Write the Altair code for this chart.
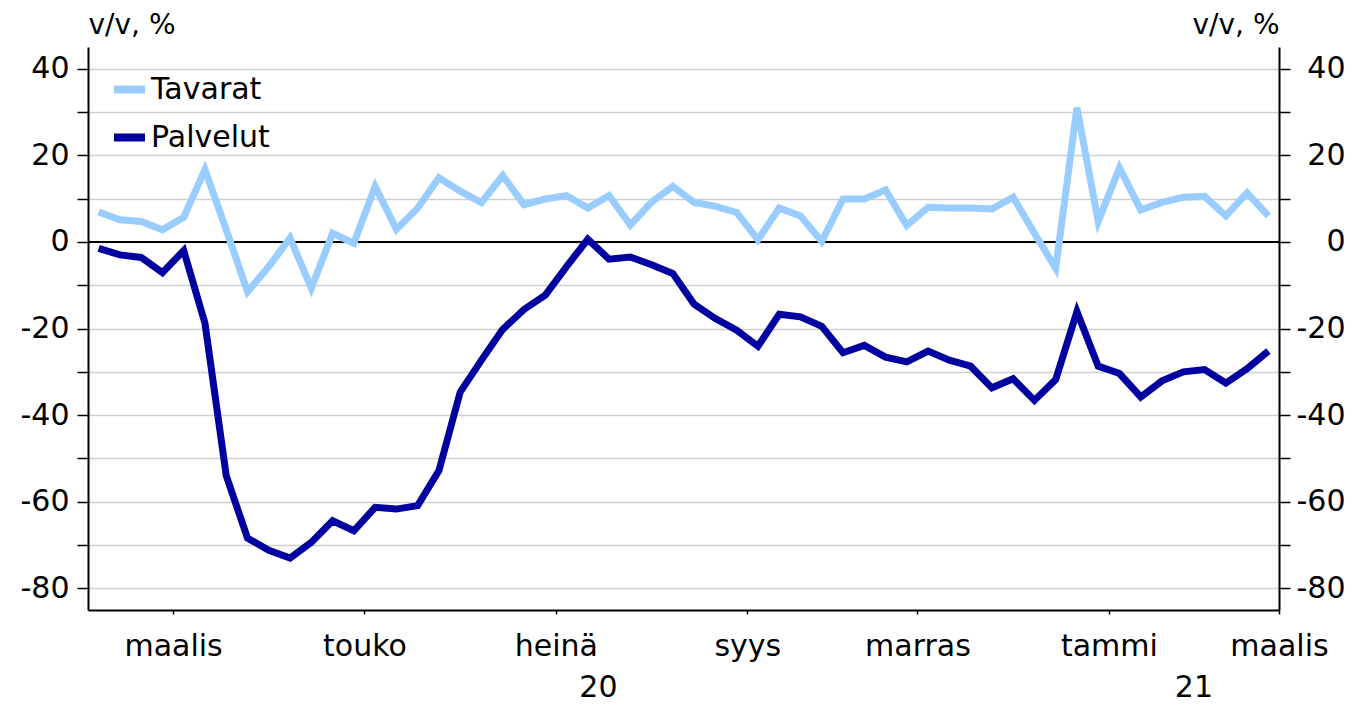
import altair as alt
import pandas as pd

# ---- data (weekly, y/y %) ----
weeks = list(range(56))
tavarat = [6.9, 5.1, 4.7, 2.8, 5.7, 16.7, 2.8, -11.5, -5.7, 0.9, -10.7, 2.0, -0.3, 12.8,
           2.9, 7.8, 14.8, 11.7, 9.1, 15.3, 8.6, 9.9, 10.7, 7.8, 10.7, 3.9, 9.2, 12.8,
           9.1, 8.2, 6.8, 0.5, 7.8, 6.0, 0.1, 9.9, 9.9, 12.0, 3.8, 8.0, 7.8, 7.8,
           7.6, 10.3, 2.0, -6.1, 31.0, 4.7, 17.1, 7.4, 9.1, 10.3, 10.5, 6.0, 11.3, 6.0]
palvelut = [-1.5, -3.0, -3.6, -7.1, -2.0, -18.8, -54.0, -68.4, -71.2, -73.0, -69.4, -64.4,
            -66.7, -61.3, -61.7, -60.9, -52.8, -34.7, -27.3, -20.2, -15.6, -12.3, -5.7, 0.6,
            -4.0, -3.5, -5.3, -7.3, -14.4, -17.7, -20.4, -24.1, -16.7, -17.3, -19.5, -25.6,
            -23.9, -26.6, -27.7, -25.2, -27.3, -28.7, -33.7, -31.6, -36.6, -31.8, -16.1, -28.7,
            -30.4, -35.8, -32.1, -30.0, -29.5, -32.6, -29.3, -25.2]
series = ["Tavarat", "Palvelut"]
colors = ["#99CCFF", "#0000A0"]
tick_pos = [4, 13, 22, 31, 39, 48, 56]
tick_labels = ["maalis", "touko", "heinä", "syys", "marras", "tammi", "maalis"]
years = ["20", "21"]
year_pos = [24, 52]
y_ticks = list(range(-80, 41, 10))

W, H = 1191, 563
FONT = "DejaVu Sans"
FS = 30

df = pd.DataFrame({"x": [w + 0.5 for w in weeks], "Tavarat": tavarat, "Palvelut": palvelut})
long = df.melt("x", var_name="sarja", value_name="value")

month_expr = "''"
for p, l in reversed(list(zip(tick_pos, tick_labels))):
    month_expr = f"datum.value == {p} ? '{l}' : ({month_expr})"

ylab_expr = "datum.value % 20 == 0 ? '' + datum.value : ''"

xscale = alt.Scale(domain=[0, 56], nice=False, zero=False)
yscale = alt.Scale(domain=[-85, 45], nice=False, zero=False)

x_axis = alt.Axis(values=tick_pos, labelExpr=month_expr, tickSize=4, tickColor="black",
                  tickWidth=1.5, domainColor="black", domainWidth=2, grid=False,
                  labelFontSize=FS, labelFont=FONT, labelColor="black", labelPadding=17,
                  labelFlush=False, labelOverlap=False, title=None)

common_y = dict(values=y_ticks, labelExpr=ylab_expr, tickSize=11, tickColor="black",
                tickWidth=1.5, domainColor="black", domainWidth=2, labelFontSize=FS,
                labelFont=FONT, labelColor="black", title="v/v, %", titleAngle=0,
                titleBaseline="alphabetic", titleX=0, titleY=-14, titleFontSize=28,
                titleFontWeight="normal", titleFont=FONT, titleColor="black")

y_left = alt.Axis(orient="left", grid=True, gridColor="#cfcfcf", gridWidth=1.3,
                  labelPadding=8, titleAlign="left", **common_y)
y_right = alt.Axis(orient="right", grid=False, labelPadding=55, labelAlign="right",
                   titleAlign="right", **common_y)

zero = alt.Chart(pd.DataFrame({"value": [0]})).mark_rule(color="black", strokeWidth=2).encode(
    y=alt.Y("value:Q", scale=yscale, axis=y_right)
)

lines = alt.Chart(long).mark_line(strokeWidth=7, strokeJoin="miter").encode(
    x=alt.X("x:Q", scale=xscale, axis=x_axis),
    y=alt.Y("value:Q", scale=yscale, axis=y_left),
    color=alt.Color("sarja:N", scale=alt.Scale(domain=series, range=colors),
                    legend=alt.Legend(title=None, orient="none", legendX=22, legendY=23,
                                      symbolType="stroke", symbolStrokeWidth=8,
                                      symbolSize=961, labelFontSize=FS, labelFont=FONT,
                                      labelColor="black", rowPadding=12, labelOffset=2)),
    detail="sarja:N",
)

ydf = pd.DataFrame({"x": year_pos, "year": years})
year_text = alt.Chart(ydf).mark_text(fontSize=FS, font=FONT, baseline="alphabetic",
                                     align="center", color="black").encode(
    x=alt.X("x:Q", scale=xscale, axis=x_axis),
    y=alt.value(H + 87),
    text="year:N",
)

chart = alt.layer(zero, lines, year_text).resolve_axis(y="independent").properties(
    width=W, height=H,
    padding={"left": 80, "top": 39, "right": 69, "bottom": 96},
    autosize=alt.AutoSizeParams(type="none"),
    background="white",
).configure_view(stroke=None)

chart.save("out.html", embed_options={"renderer": "svg", "actions": False})
